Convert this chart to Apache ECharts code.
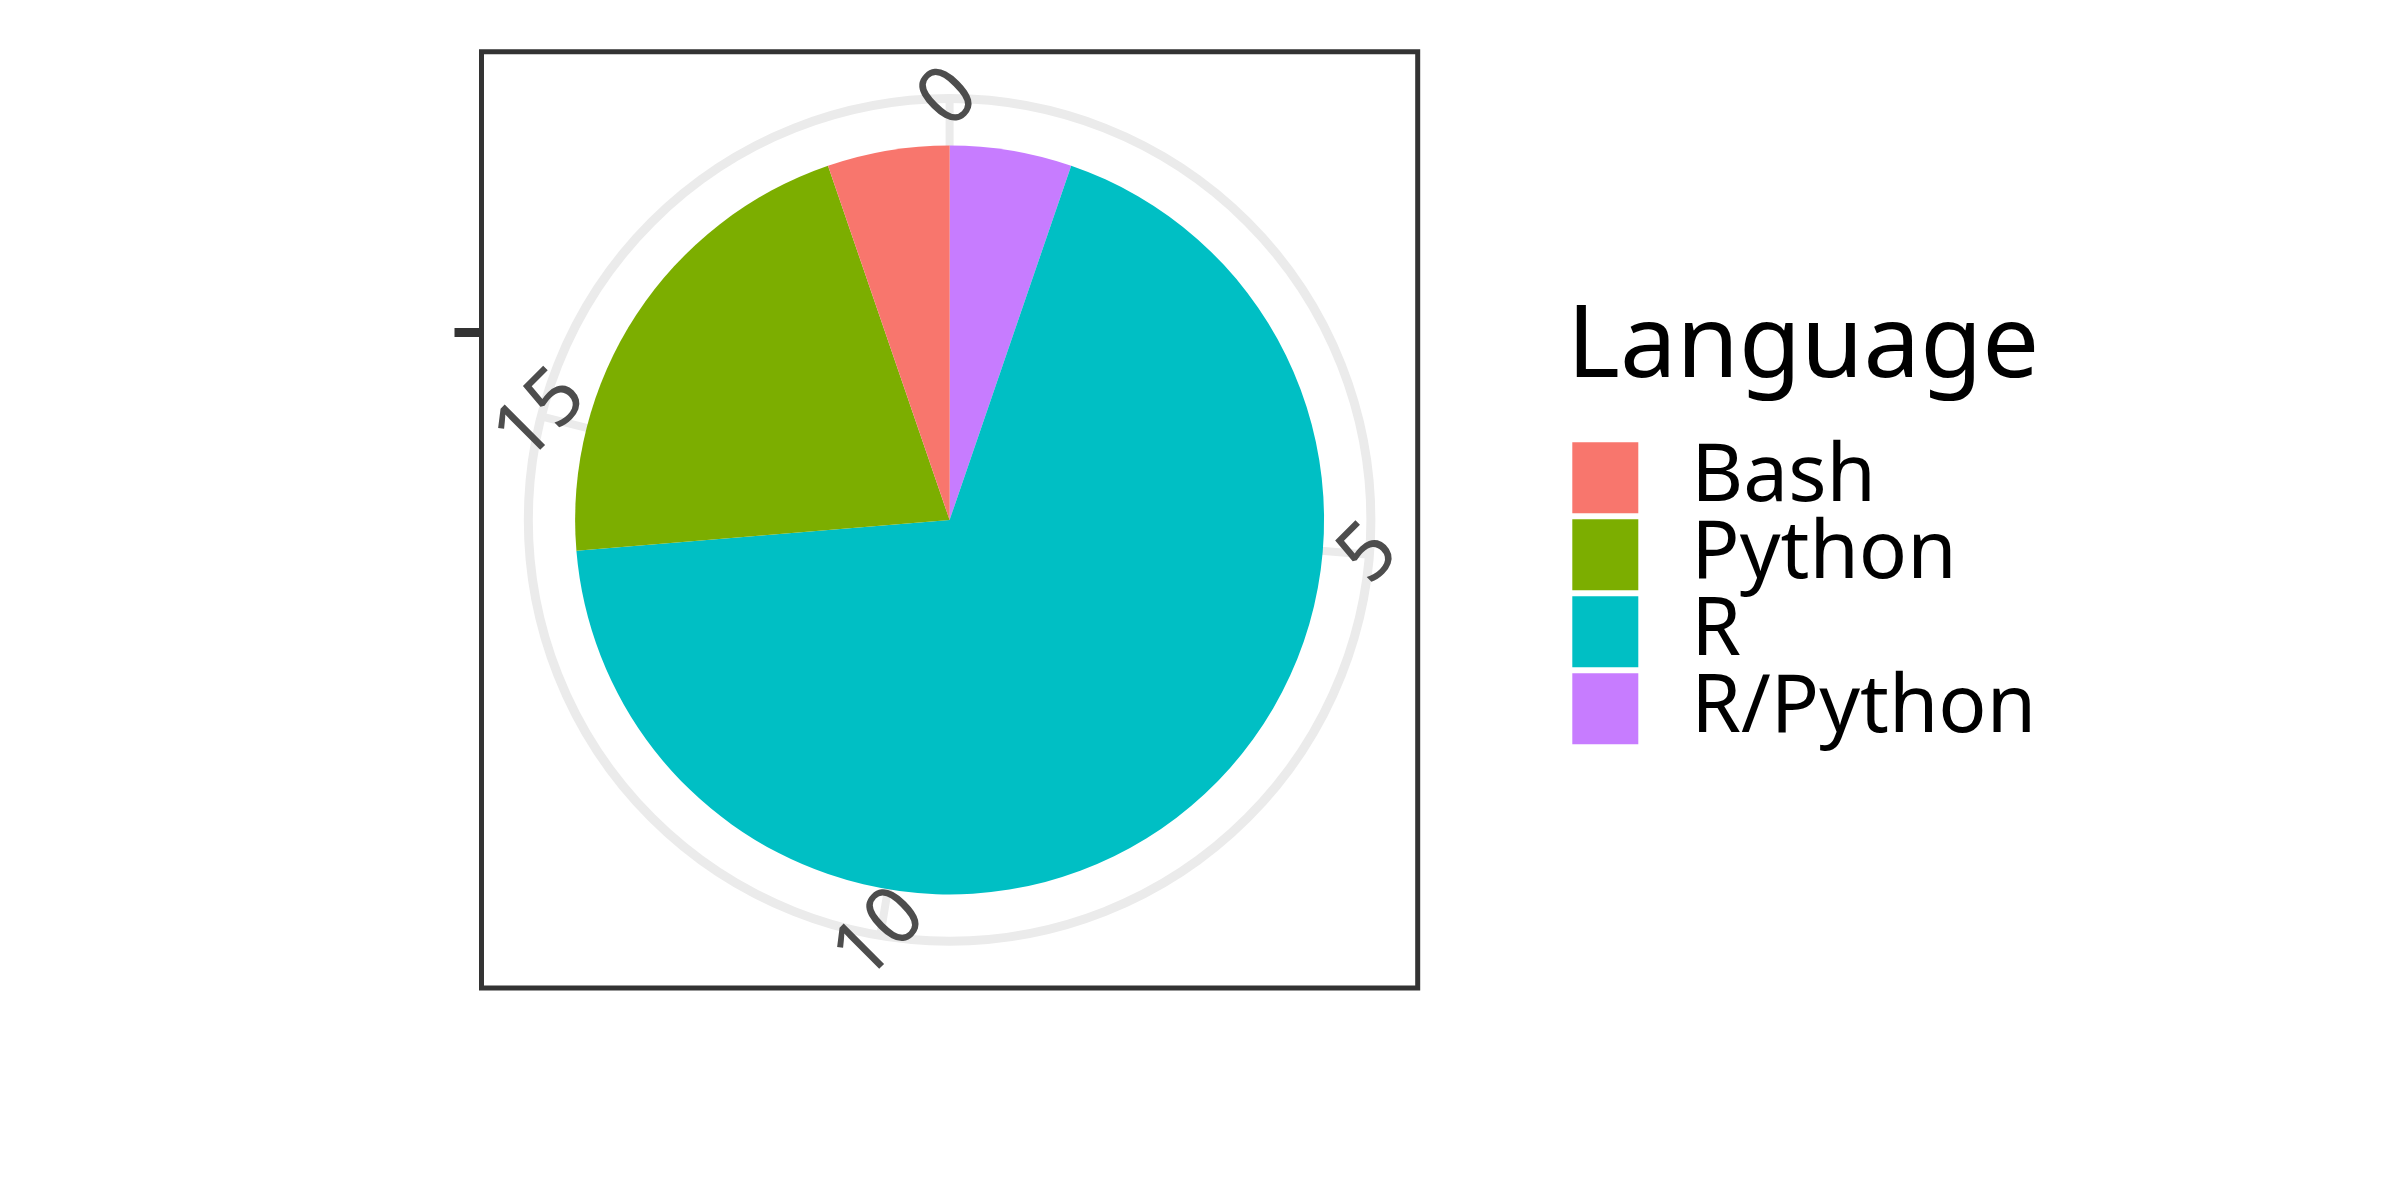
<!DOCTYPE html>
<html>
<head>
<meta charset="utf-8">
<script src="https://cdn.jsdelivr.net/npm/echarts@6/dist/echarts.min.js"></script>
<style>
html,body{margin:0;padding:0;background:#fff;}
#chart{width:2400px;height:1200px;}
</style>
</head>
<body>
<div id="chart"></div>
<script>
// ---- data ----
const categories = ['Bash', 'Python', 'R', 'R/Python'];
const counts = [1, 4, 13, 1];
const fillColors = ['#F8766D', '#7CAE00', '#00BFC4', '#C77CFF'];
const thetaTicks = [0, 5, 10, 15];
const rTickValues = [1];
const rTickLabels = [''];
const legendTitle = 'Language';

// ---- layout ----
const FONT = 'Noto Sans';
const panel = { left: 481.5, top: 51.8, size: 936.2 };
const cx = panel.left + panel.size / 2;
const cy = panel.top + panel.size / 2;
const total = counts.reduce((a, b) => a + b, 0);

// ggplot stacks the first level on top, so clockwise from 12 o'clock the last level comes first
const pieData = categories.map((c, i) => ({
  name: c, value: counts[i], itemStyle: { color: fillColors[i] }
})).reverse();

// theta tick labels sit on the outer ring (radius 1 of the hidden radius axis)
const thetaLabelData = thetaTicks.map(t => [1, t]);

const chart = echarts.init(document.getElementById('chart'), null, { renderer: 'canvas' });
chart.setOption({
  animation: false,
  backgroundColor: '#ffffff',
  title: {
    text: legendTitle,
    left: 1567, top: 298, padding: 0,
    textStyle: { fontFamily: FONT, fontSize: 101, fontWeight: 'normal', color: '#000000' }
  },
  legend: {
    orient: 'vertical',
    left: 1572.3, top: 437.8, padding: 0,
    itemWidth: 66, itemHeight: 71, itemGap: -3,
    icon: 'rect',
    data: categories,
    selectedMode: false,
    itemStyle: { borderWidth: 0 },
    textStyle: {
      fontFamily: FONT, fontSize: 80, color: '#000000',
      padding: [0, 0, 0, 48]
    }
  },
  grid: {
    left: panel.left, top: panel.top, width: panel.size, height: panel.size,
    show: true, borderColor: '#333333', borderWidth: 5, backgroundColor: 'transparent', z: 5
  },
  xAxis: { type: 'value', show: false, min: 0, max: 1 },
  yAxis: {
    type: 'value', min: -0.75, max: 1.75,
    axisLine: { show: false },
    splitLine: { show: false },
    axisLabel: { show: true, customValues: rTickValues, formatter: (v) => rTickLabels[rTickValues.indexOf(v)] || '' },
    axisTick: { show: true, customValues: rTickValues, length: 27, lineStyle: { color: '#333333', width: 9 } }
  },
  polar: { center: [cx, cy], radius: panel.size * 0.45 },
  radiusAxis: { show: false, min: 0, max: 1 },
  angleAxis: {
    type: 'value', min: 0, max: total, interval: 5,
    startAngle: 90, clockwise: true,
    z: 0,
    axisLine: { show: true, lineStyle: { color: '#EBEBEB', width: 9 } },
    axisTick: { show: false },
    splitLine: { show: true, lineStyle: { color: '#EBEBEB', width: 8 } },
    axisLabel: { show: false }
  },
  series: [{
    type: 'pie',
    center: [cx, cy],
    radius: panel.size * 0.4,
    startAngle: 90,
    clockwise: true,
    z: 3,
    label: { show: false },
    labelLine: { show: false },
    emphasis: { disabled: true },
    itemStyle: { borderWidth: 0 },
    data: pieData
  }, {
    type: 'scatter',
    coordinateSystem: 'polar',
    z: 4,
    symbol: 'circle',
    symbolSize: 2,
    itemStyle: { color: 'rgba(255,255,255,0)' },
    silent: true,
    emphasis: { disabled: true },
    labelLayout: { hideOverlap: false },
    label: {
      show: true,
      position: 'inside',
      rotate: 45,
      offset: [0, 6],
      formatter: (p) => String(p.value[1]),
      fontFamily: FONT, fontSize: 80, color: '#4D4D4D',
      textBorderWidth: 0, textBorderColor: 'transparent', opacity: 1
    },
    data: thetaLabelData
  }]
});
</script>
</body>
</html>
